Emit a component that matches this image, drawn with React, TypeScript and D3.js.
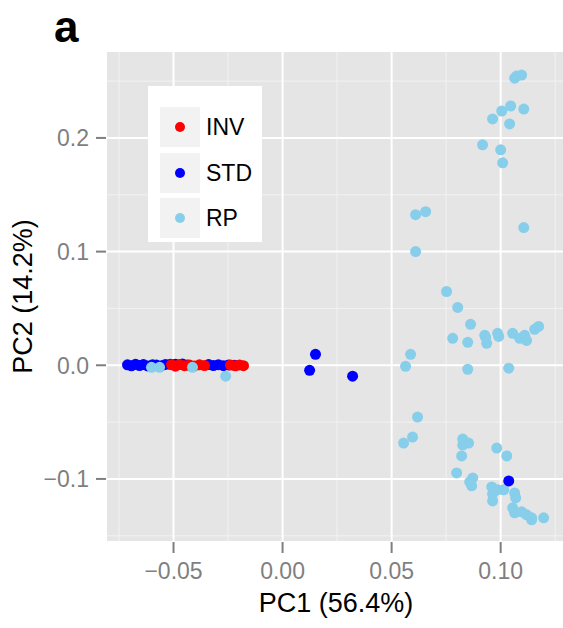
import React from 'react';
import * as d3 from 'd3';

// PCA scores: [PC1, PC2]
const invPoints: [number, number][] = [
  [-0.0509, 0.0005], [-0.0491, -0.0008], [-0.0472, 0.0006], [-0.0450, -0.0004],
  [-0.0427, 0.0003], [-0.0404, -0.0006], [-0.0381, 0.0004], [-0.0358, -0.0003],
  [-0.0239, 0.0002], [-0.0216, -0.0005], [-0.0197, 0.0003], [-0.0179, -0.0004],
];

const stdPoints: [number, number][] = [
  [-0.0711, 0.0004], [-0.0693, -0.0005], [-0.0674, 0.0008], [-0.0656, -0.0003],
  [-0.0638, 0.0006], [-0.0619, -0.0006], [-0.0596, 0.0005], [-0.0578, 0.0002],
  [-0.0555, -0.0004], [-0.0537, 0.0007], [-0.0514, 0.0009], [-0.0491, 0.0010],
  [-0.0459, 0.0012], [-0.0436, 0.0003], [-0.0339, 0.0006], [-0.0317, -0.0002],
  [-0.0294, 0.0005], [-0.0271, -0.0004], [-0.0248, 0.0003], [-0.0220, 0.0001],
  [0.0151, 0.0096], [0.0124, -0.0044], [0.0321, -0.0096], [0.1037, -0.1018],
];

const rpPoints: [number, number][] = [
  [-0.0601, -0.0018], [-0.0564, -0.0018], [-0.0413, -0.0018], [-0.0261, -0.0096],
  [0.1064, 0.2526], [0.1096, 0.2553], [0.1073, 0.2544], [0.1046, 0.2281],
  [0.1106, 0.2254], [0.1005, 0.2237], [0.0963, 0.2167], [0.1041, 0.2123],
  [0.0917, 0.1939], [0.1000, 0.1895], [0.1009, 0.1781], [0.0610, 0.1325],
  [0.0656, 0.1351], [0.1106, 0.1211], [0.0610, 0.1000], [0.0752, 0.0649],
  [0.0803, 0.0509], [0.0862, 0.0360], [0.0780, 0.0237], [0.0849, 0.0202],
  [0.0927, 0.0263], [0.0936, 0.0193], [0.0931, 0.0246], [0.0986, 0.0281],
  [0.0991, 0.0254], [0.1055, 0.0281], [0.1087, 0.0237], [0.1110, 0.0263],
  [0.1119, 0.0219], [0.1156, 0.0316], [0.1174, 0.0342], [0.0587, 0.0096],
  [0.0564, -0.0009], [0.0849, -0.0035], [0.1037, -0.0026], [0.0619, -0.0456],
  [0.0596, -0.0632], [0.0555, -0.0684], [0.0826, -0.0649], [0.0853, -0.0684],
  [0.0826, -0.0702], [0.0982, -0.0728], [0.1028, -0.0798], [0.0821, -0.0798],
  [0.0798, -0.0947], [0.0872, -0.0991], [0.0858, -0.1026], [0.0867, -0.1061],
  [0.0959, -0.1070], [0.0986, -0.1096], [0.1014, -0.1096], [0.0963, -0.1132],
  [0.0963, -0.1193], [0.1064, -0.1123], [0.1069, -0.1167], [0.1055, -0.1254],
  [0.1064, -0.1298], [0.1096, -0.1289], [0.1119, -0.1316], [0.1142, -0.1342],
  [0.1142, -0.1360], [0.1197, -0.1342],
];

const groups = ['INV', 'STD', 'RP'];
const groupColors = ['#ff0000', '#0000ff', '#87ceeb'];

const xTicks = [-0.05, 0, 0.05, 0.1];
const xTickLabels = ['\u22120.05', '0.00', '0.05', '0.10'];
const xMinor = [-0.075, -0.025, 0.025, 0.075, 0.125];
const yTicks = [-0.1, 0, 0.1, 0.2];
const yTickLabels = ['\u22120.1', '0.0', '0.1', '0.2'];
const yMinor = [-0.15, -0.05, 0.05, 0.15, 0.25];

export default function App() {
  const W = 563, H = 628;
  const left = 107, right = 565, top = 52, bottom = 541;
  const font = '"Liberation Sans", Arial, Helvetica, sans-serif';

  const x = d3.scaleLinear().domain([-0.0805, 0.1295]).range([left, right]);
  const y = d3.scaleLinear().domain([-0.1546, 0.2756]).range([bottom, top]);
  const color = d3.scaleOrdinal<string, string>().domain(groups).range(groupColors);

  const layers: [string, [number, number][]][] = [
    ['STD', stdPoints.slice(0, 20)],
    ['INV', invPoints],
    ['RP', rpPoints],
    ['STD', stdPoints.slice(20)],
  ];

  const legendY = [127, 173, 218];

  return (
    <svg width={W} height={H} style={{ position: 'absolute', left: 0, top: 0, background: '#fff' }}>
      <text x={54} y={42} fontFamily={font} fontWeight="bold" fontSize={44} fill="#000">a</text>

      <rect x={left} y={top} width={right - left} height={bottom - top} fill="#e5e5e5" />
      {xMinor.map((v) => (
        <line key={'xm' + v} x1={x(v)} x2={x(v)} y1={top} y2={bottom} stroke="#f2f2f2" strokeWidth={1} />
      ))}
      {yMinor.map((v) => (
        <line key={'ym' + v} x1={left} x2={right} y1={y(v)} y2={y(v)} stroke="#f2f2f2" strokeWidth={1} />
      ))}
      {xTicks.map((v) => (
        <line key={'xg' + v} x1={x(v)} x2={x(v)} y1={top} y2={bottom} stroke="#fff" strokeWidth={2} />
      ))}
      {yTicks.map((v) => (
        <line key={'yg' + v} x1={left} x2={right} y1={y(v)} y2={y(v)} stroke="#fff" strokeWidth={2} />
      ))}

      {layers.map(([g, pts], li) => (
        <g key={'layer' + li} fill={color(g)}>
          {pts.map((p, i) => (
            <circle key={i} cx={x(p[0])} cy={y(p[1])} r={5.5} />
          ))}
        </g>
      ))}

      {/* legend */}
      <rect x={148} y={86} width={114} height={156} fill="#fff" />
      {groups.map((g, i) => (
        <g key={g}>
          <rect x={160} y={legendY[i] - 20} width={40} height={40} fill="#f2f2f2" />
          <circle cx={180} cy={legendY[i]} r={5} fill={color(g)} />
          <text x={206} y={legendY[i]} dy="0.36em" fontFamily={font} fontSize={23} fill="#000">{g}</text>
        </g>
      ))}

      {/* axes */}
      {xTicks.map((v, i) => (
        <g key={'xt' + v}>
          <line x1={x(v)} x2={x(v)} y1={bottom + 1} y2={bottom + 12} stroke="#7f7f7f" strokeWidth={2} />
          <text x={x(v)} y={579} textAnchor="middle" fontFamily={font} fontSize={23} fill="#7f7f7f">{xTickLabels[i]}</text>
        </g>
      ))}
      {yTicks.map((v, i) => (
        <g key={'yt' + v}>
          <line x1={left - 11} x2={left - 1} y1={y(v)} y2={y(v)} stroke="#7f7f7f" strokeWidth={2} />
          <text x={89} y={y(v)} dy="0.36em" textAnchor="end" fontFamily={font} fontSize={23} fill="#7f7f7f">{yTickLabels[i]}</text>
        </g>
      ))}
      <text x={(left + right) / 2} y={612} textAnchor="middle" fontFamily={font} fontSize={27} fill="#000">PC1 (56.4%)</text>
      <text transform={`translate(32,${(top + bottom) / 2}) rotate(-90)`} textAnchor="middle" fontFamily={font} fontSize={27} fill="#000">PC2 (14.2%)</text>
    </svg>
  );
}
